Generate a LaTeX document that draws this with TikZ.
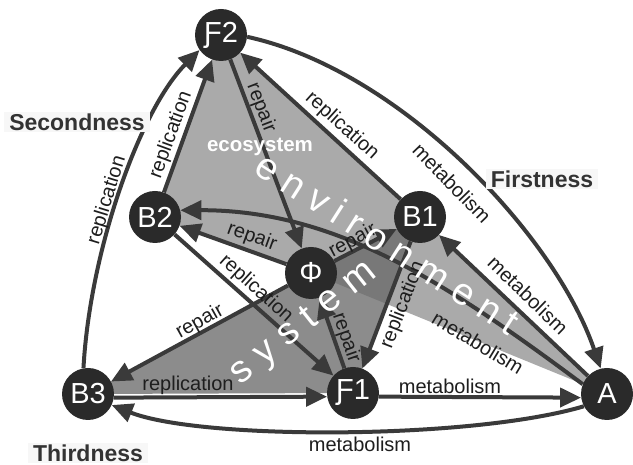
\documentclass[tikz,border=0pt]{standalone}
\usepackage{fontspec}
\setmainfont{Liberation Sans}
\usetikzlibrary{arrows.meta}
\definecolor{edgec}{HTML}{3A3A3A}
\definecolor{nodec}{HTML}{2A2A2A}
\definecolor{envc}{HTML}{AAAAAA}
\definecolor{sysc}{HTML}{696969}
\definecolor{txtc}{HTML}{1E1E1E}
\definecolor{phasec}{HTML}{333333}
\begin{document}
\begin{tikzpicture}[x=1pt,y=1pt,
  state/.style={circle,fill=nodec,text=white,minimum size=52pt,inner sep=0pt,font=\fontsize{29}{29}\selectfont},
  conn/.style={line width=4pt,draw=edgec,-{Triangle[length=21pt,width=19pt]}},
  elabel/.style={font=\fontsize{20}{20}\selectfont,text=txtc,inner sep=0pt},
  phase/.style={font=\fontsize{23}{23}\selectfont\bfseries,text=phasec,fill=black!3,inner xsep=5pt,inner ysep=2pt},
  bigletters/.style={font=\fontsize{38}{38}\selectfont,text=white,inner sep=0pt}]
\useasboundingbox (0,0) rectangle (633,465);
\fill[white] (0,0) rectangle (633,465);
% centres
\coordinate (cF2) at (221,430);
\coordinate (cB2) at (155,248);
\coordinate (cB1) at (420,248);
\coordinate (cPhi) at (311,192);
\coordinate (cB3) at (88,71);
\coordinate (cF1) at (353,72);
\coordinate (cA) at (607,71);
% shaded regions
\fill[envc] (cF2) -- (cB1) -- (cA) -- (cPhi) -- (cB2) -- cycle;
\fill[sysc,fill opacity=0.765] (cB3) -- (cPhi) -- (cB1) -- (cF1) -- cycle;
% nodes
\node[state] (F2) at (cF2) {Ƒ2};
\node[state] (B2) at (cB2) {B2};
\node[state] (B1) at (cB1) {B1};
\node[state] (Phi) at (cPhi) {Φ};
\node[state] (B3) at (cB3) {B3};
\node[state] (F1) at (cF1) {Ƒ1};
\node[state] (A) at (cA) {A};
% connectors
\draw[conn] (B3.100) .. controls (90,215) and (140,355) .. (F2.215);
\draw[conn] (B2) -- (F2);
\draw[conn] (F2) -- (Phi);
\draw[conn] (B1) -- (F2);
\draw[conn] (F2.-4) .. controls (400,395) and (555,230) .. (A.104);
\draw[conn] (A) -- (B1);
\draw[conn] (A.158) .. controls (444,184) and (335,255) .. (B2.15);
\draw[conn] (Phi) -- (B2);
\draw[conn] (B2) -- (F1);
\draw[conn] (Phi) -- (B3);
\draw[conn] (B3.-8) -- (F1.188);
\draw[conn] (F1.-8) -- (A.188);
\draw[conn] (A.208) .. controls (470,25) and (200,25) .. (B3.335);
\draw[conn] (F1) -- (Phi);
\draw[conn] (Phi) -- (B1);
\draw[conn] (B1) -- (F1);
% connector labels
\node[elabel,rotate=73] (l1) at (107,265) {replication};
\node[elabel,rotate=70] (l2) at (171,330) {replication};
\node[elabel,rotate=-69] (l3) at (261,357) {repair};
\node[elabel,rotate=-42] (l4) at (342,339) {replication};
\node[elabel,rotate=-46] (l5) at (452,282) {metabolism};
\node[elabel,rotate=-44] (l6) at (528,170) {metabolism};
\node[elabel,rotate=-31] (l7) at (478,122) {metabolism};
\node[elabel] (l8) at (450,79) {metabolism};
\node[elabel] (l9) at (360,21) {metabolism};
\node[elabel] (l10) at (188,80) {replication};
\node[elabel,rotate=29] (l11) at (200,143) {repair};
\node[elabel,rotate=-42] (l12) at (256,176) {replication};
\node[elabel,rotate=-20] (l13) at (252,228) {repair};
\node[elabel,rotate=28] (l14) at (353,224) {repair};
\node[elabel,rotate=-71] (l15) at (346,127) {repair};
\node[elabel,rotate=69] (l16) at (403,160) {replication};
% phase labels
\node[phase] (second) at (77,343) {Secondness};
\node[phase] (first) at (542,286) {Firstness};
\node[phase] (third) at (88,12) {Thirdness};
% region labels
\node[font=\fontsize{20.5}{20.5}\selectfont\bfseries,text=white,inner sep=0pt] (eco) at (260,318) {ecosystem};
\node[bigletters,rotate=-32.6] (env) at (388,222) {e\kern9.5pt n\kern9.5pt v\kern9.5pt i\kern9.5pt r\kern9.5pt o\kern9.5pt n\kern9.5pt m\kern9.5pt e\kern9.5pt n\kern9.5pt t};
\node[bigletters,rotate=38.5] (sys) at (304,141) {s\kern11pt y\kern11pt s\kern11pt t\kern11pt e\kern11pt m};
\end{tikzpicture}
\end{document}
